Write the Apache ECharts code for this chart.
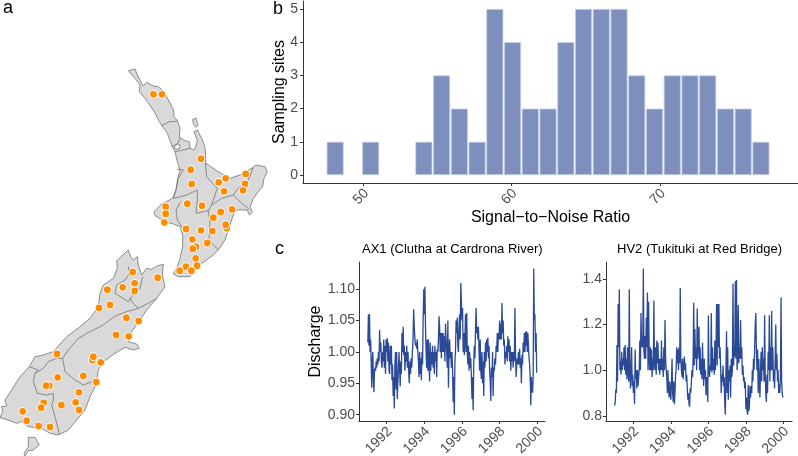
<!DOCTYPE html>
<html><head><meta charset="utf-8">
<style>html,body{margin:0;padding:0;background:#fff}#c{width:798px;height:456px}</style>
<script src="https://cdn.jsdelivr.net/npm/echarts@6/dist/echarts.min.js"></script>
</head><body><div id="c"></div>
<script>
// ---- histogram
const binStart = 47.5, binWidth = 1.196;
const binCounts = [1,0,1,0,0,1,3,2,1,5,4,2,2,4,5,5,5,3,2,3,3,3,2,2,1];
const histXTicks = [50,60,70];
const histYTicks = [0,1,2,3,4,5];
// ---- discharge, half-year blocks from 1991.0 to 2000.0
const ax1HalfYears = [
[1.015,1.06,1.01,1.06,1.0,1.02,.985,.943,.985,1.0,.955,.936,.97,.975,.97,.985,.975],
[.99,.98,1.0,.985,1.035,1.0,1.015,.985,.975,1.0,.985,1.02,.975,1.01,.965,1.02],
[1.0,1.022,.985,1.015,.97,.965,1.01,.98,1.01,.955,.98,.93,.96,.91,.98,1.0],
[.94,1.0,.925,.95,.975,1.0,.97,.945,.985,.965,1.03,1.0,1.04,.995,1.01,.97],
[1.0,.985,1.01,.975,1.0,.97,.95,.985,.965,.99,.975,1.0,1.02,1.068,1.04],
[1.02,1.01,1.015,1.005,1.02,1.0,.985,.96,1.0,.965,.99,.955,1.0,.98,1.05,1.1],
[1.06,1.104,1.04,1.0,.975,1.02,.97,1.02,.98,.953,1.015,.97,1.0,.98,1.01,.975],
[1.0,.965,1.01,.985,1.0,.96,1.005,1.0,1.02,1.057,1.04,1.0,1.03,.99,1.03,1.0],
[1.03,1.0,1.025,.985,1.045,1.02,1.0,.975,1.05,.943,1.0,1.02,.99,1.0,.975,1.0],
[.97,.92,.96,.90,.985,1.0,1.05,1.03,1.055,1.01,1.0,1.04,1.06,1.02,1.11,1.08],
[1.05,1.07,1.0,1.03,.995,1.02,1.06,1.0,1.062,1.0,.98,1.01,.97,1.0,.975,.99],
[.96,.925,.96,.907,.98,1.01,.99,1.035,1.07,1.03,1.04,1.02,1.04,1.0,.97,1.02],
[.97,.957,1.0,.95,.985,.93,1.0,.975,1.015,.985,1.02,1.0,1.023,.99,1.01,.97],
[.955,.922,.975,.96,1.0,.93,.975,.97,.99,.98,1.01,1.0,1.03,1.0,1.03,1.02],
[1.05,1.02,1.045,1.02,1.078,1.03,1.05,1.01,1.02,.98,1.0,.99,1.01,.985,1.025,1.0],
[1.02,.985,1.01,.97,1.0,.985,1.0,.975,1.0,.985,1.07,1.0,.96,.98,.99,.98],
[1.0,.98,1.005,.975,.99,.95,.995,.98,1.015,1.0,1.03,1.0,1.032,1.01,1.033,1.0],
[1.03,1.01,.99,.98,.96,.915,.96,.94,.935,.96,1.133,1.05,1.06,1.0,1.03,.967]];
const hv2HalfYears = [
[.844,.86,.915,.9,1.11,.95,1.29,1.1,1.355,1.0,1.04,.98,1.08,1.0,1.05,1.02],
[1.1,1.0,1.11,.98,1.05,.96,1.1,1.0,.95,1.355,1.0,.92,1.0,1.1,.93,.98],
[.9,.95,.85,1.09,.96,1.0,.92,1.0,.93,.97,1.0,1.13,1.0,1.25,1.1,1.15],
[1.1,1.445,1.08,1.05,1.15,1.05,1.23,1.1,1.34,1.0,1.3,1.05,1.0,1.1,1.0,1.09],
[.97,1.05,1.0,1.305,1.03,1.0,1.1,.98,1.13,1.03,1.12,1.0,1.05,.98,1.05,1.0],
[1.13,1.0,1.05,.97,1.1,1.0,1.22,1.05,1.0,.97,.9,1.0,.92,.88,.95,.9],
[.87,.95,1.05,.9,.86,.95,.85,.9,.98,1.0,1.1,1.03,1.09,1.0,1.1,1.03],
[1.36,1.05,1.0,.97,1.05,.96,1.02,1.06,1.0,1.03,.95,.98,.92,.87,.9,.85],
[.84,.92,.9,.95,1.0,.97,1.05,1.295,1.02,1.18,1.05,1.1,1.0,1.27,1.05,1.15],
[1.19,1.0,1.1,.98,1.05,.96,1.12,1.0,.93,1.05,.96,1.0,.89,.97,.93,.86],
[1.24,1.0,.97,1.02,1.0,1.25,.99,1.1,1.0,1.05,.98,1.13,1.0,1.08,1.29,1.02],
[1.29,1.1,1.29,1.05,1.1,1.0,.9,.98,.95,1.02,.93,.97,.85,.805,1.0,1.17],
[.9,1.1,.87,1.0,.95,1.02,.88,1.05,.97,1.0,1.38,1.02,1.1,1.06,1.39,1.05],
[1.395,1.0,1.06,1.285,1.03,1.1,1.05,1.22,1.05,1.1,.98,1.02,.95,.97,.92,.95],
[.83,.88,.82,.805,.935,.82,.84,.93,.88,.93,.9,1.0,.95,1.05,1.0,1.1],
[1.2,1.25,1.08,1.0,1.09,.9,1.05,.95,.88,1.0,1.08,.95,1.1,1.0,1.05,.95],
[1.24,.98,.9,.86,.98,.9,1.08,1.0,1.24,.95,1.1,1.0,1.26,1.0,1.1,.95],
[1.0,.92,1.05,1.2,1.0,1.07,.95,1.0,.9,.94,.9,.97,1.32,.95,.9,.88]];
const yearTicks = [1992,1994,1996,1998,2000];
const ax1Ticks = [0.90,0.95,1.00,1.05,1.10];
const hv2Ticks = [0.8,1.0,1.2,1.4];
// ---- map (map units)
const northOutline = [[115,62],[135,57],[142,75],[155,100],[160,108],[170,97],[190,108],[205,110],[222,125],[235,150],[250,178],[252,200],[262,212],[270,235],[268,262],[285,272],[298,275],[300,295],[312,300],[318,288],[322,272],[312,245],[322,240],[335,265],[345,290],[348,340],[380,362],[420,385],[450,375],[490,352],[497,345],[525,350],[532,365],[522,385],[518,410],[505,425],[490,445],[480,470],[487,487],[478,495],[472,480],[440,480],[432,490],[425,510],[415,540],[405,570],[385,600],[370,615],[335,640],[310,665],[300,680],[265,680],[250,672],[262,650],[270,625],[278,590],[278,555],[270,530],[250,522],[225,515],[195,497],[192,485],[215,462],[248,445],[258,420],[262,390],[270,360],[262,335],[255,305],[245,285],[232,250],[215,225],[205,210],[190,180],[165,145],[148,125],[150,105],[135,85],[115,62]];
const northIslets = [[[308,208],[318,204],[324,225],[318,232],[310,222]]];
const northHoles = [[[252,290],[262,282],[270,285],[268,295],[258,298]]];
const northBorders = [
[[213,228],[238,215],[262,214]],
[[245,290],[262,282],[270,265]],
[[255,305],[280,300],[300,295]],
[[262,358],[280,360],[265,385],[258,420],[250,445],[290,435],[322,420],[322,450],[318,490],[355,482]],
[[346,340],[350,380],[382,415],[365,465],[355,482],[360,520],[357,570],[385,600]],
[[365,465],[395,445],[430,435],[450,455],[478,478]],
[[490,352],[475,390],[440,420],[430,435]],
[[272,455],[258,480],[262,510],[275,530]]];
const northSites = [[410,535],[318,590],[190,133],[216,133],[333,326],[302,359],[305,402],[407,385],[386,397],[467,372],[465,402],[459,421],[402,424],[227,470],[227,491],[223,517],[292,461],[336,467],[392,486],[426,478],[370,503],[407,524],[288,537],[333,541],[367,543],[307,568],[308,596],[352,579],[317,625],[321,647],[288,650],[304,662],[269,662]];
const southOutline = [[350,92],[385,60],[392,80],[400,90],[412,80],[415,105],[425,135],[440,115],[455,118],[470,108],[490,103],[487,135],[495,170],[470,205],[440,240],[420,270],[395,305],[385,335],[410,342],[418,355],[400,360],[375,352],[345,370],[310,395],[295,420],[288,465],[270,500],[255,540],[230,570],[205,600],[175,615],[150,610],[125,595],[85,590],[65,575],[50,580],[30,572],[0,563],[8,545],[5,530],[20,528],[15,510],[35,480],[60,440],[88,410],[105,380],[130,375],[160,365],[200,320],[240,290],[270,265],[295,230],[300,190],[310,165],[340,145],[352,115],[350,92]];
const southIslets = [[[85,622],[105,622],[118,645],[100,660],[85,662],[75,678],[72,670],[85,650]]];
const southBorders = [
[[385,110],[388,130],[375,150],[350,165],[345,190],[385,215],[395,200],[420,175],[428,140]],
[[390,205],[395,215],[415,235],[435,225],[470,205]],
[[415,235],[380,245],[345,258],[310,285],[270,305],[235,325],[205,360],[188,385],[195,425],[225,450],[250,465],[290,450]],
[[188,385],[170,385],[145,395],[130,415],[105,430],[100,455],[112,490],[140,495],[160,490],[160,510],[155,525],[165,560],[178,612]],
[[88,410],[115,420],[105,430]]];
const southSites = [[277,390],[148,467],[398,126],[404,160],[368,172],[404,183],[473,143],[322,179],[330,225],[297,234],[379,263],[416,273],[348,315],[386,319],[171,372],[280,380],[302,397],[250,438],[173,442],[289,456],[138,467],[237,487],[131,518],[123,533],[227,517],[184,525],[237,540],[68,544],[80,572],[116,588],[150,591]];

const FONT = '"Liberation Sans", Arial, sans-serif';
const fromNorth = p => [90 + p[0]/3, 50 + p[1]/3];
const fromSouth = p => [p[0]/3, 230 + p[1]/3];
const fills = [northOutline.map(fromNorth), ...northIslets.map(s=>s.map(fromNorth)), southOutline.map(fromSouth), ...southIslets.map(s=>s.map(fromSouth))];
const holes = northHoles.map(s=>s.map(fromNorth));
const borders = [...northBorders.map(s=>s.map(fromNorth)), ...southBorders.map(s=>s.map(fromSouth))];
const sites = [...northSites.map(fromNorth), ...southSites.map(fromSouth)];

const hist = binCounts.map((c,i)=>[binStart+binWidth*(i+.5),c]).filter(d=>d[1]>0);
const toLine = blocks => blocks.flatMap((b,k)=>b.map((v,i)=>[1991+(k+i/b.length)*0.5,v]));
const fmt2 = v => v.toFixed(2), fmt1 = v => v.toFixed(1);

function axis(type,min,max,ticks,rot,fmt,margin,extra){
  const a={type,min,max,nameLocation:'middle',nameMoveOverlap:false,
    nameTextStyle:{color:'#000',fontFamily:FONT,fontSize:16},
    axisLine:{onZero:false,lineStyle:{color:'#333',width:1}},
    axisTick:{length:3,customValues:ticks,lineStyle:{color:'#333',width:1}},
    splitLine:{show:false},
    axisLabel:{customValues:ticks,color:'#4d4d4d',fontFamily:FONT,fontSize:14,margin,rotate:rot}};
  if(rot){a.axisLabel.verticalAlign='top';a.axisLabel.lineHeight=9;}
  if(fmt) a.axisLabel.formatter=fmt;
  return Object.assign(a,extra||{});
}
const txt=(left,top,text,size)=>({left,top,text,padding:0,textStyle:{fontFamily:FONT,fontSize:size,fontWeight:'normal',color:'#000'}});

function drawMap(params,api){
  const ch=[];
  fills.forEach(s=>ch.push({type:'polygon',shape:{points:s.map(p=>api.coord(p))},style:{fill:'#d9d9d9',stroke:'#737373',lineWidth:.8}}));
  holes.forEach(s=>ch.push({type:'polygon',shape:{points:s.map(p=>api.coord(p))},style:{fill:'#fff',stroke:'#737373',lineWidth:.8}}));
  borders.forEach(s=>ch.push({type:'polyline',shape:{points:s.map(p=>api.coord(p))},style:{fill:null,stroke:'#737373',lineWidth:.8}}));
  return {type:'group',children:ch};
}

const chart=echarts.init(document.getElementById('c'),null,{renderer:'canvas'});
chart.setOption({
  animation:false,backgroundColor:'#fff',
  title:[
    txt(3,-1,'a',18),txt(273,0,'b',18),txt(275,240,'c',18),
    txt(362,243,'AX1 (Clutha at Cardrona River)',13),
    txt(617,243,'HV2 (Tukituki at Red Bridge)',13)
  ],
  grid:[
    {left:0,top:0,width:270,height:456,outerBoundsMode:'none'},
    {left:303,top:1,width:495,height:182,outerBoundsMode:'none'},
    {left:359,top:262,width:186,height:159,outerBoundsMode:'none'},
    {left:606,top:262,width:186,height:159,outerBoundsMode:'none'}
  ],
  xAxis:[
    {gridIndex:0,type:'value',min:0,max:270,show:false},
    axis('value',45.93,79.3,histXTicks,45,null,5,{gridIndex:1,name:'Signal\u2212to\u2212Noise Ratio',nameGap:27}),
    axis('value',1990.53,2000.41,yearTicks,45,v=>String(v),5,{gridIndex:2}),
    axis('value',1990.54,2000.46,yearTicks,45,v=>String(v),5,{gridIndex:3})
  ],
  yAxis:[
    {gridIndex:0,type:'value',min:0,max:456,inverse:true,show:false},
    axis('value',-0.24,5.24,histYTicks,0,null,5,{gridIndex:1,name:'Sampling sites',nameGap:15}),
    axis('value',0.89,1.1433,ax1Ticks,0,fmt2,4,{gridIndex:2,name:'Discharge',nameGap:35}),
    axis('value',0.777,1.474,hv2Ticks,0,fmt1,4,{gridIndex:3})
  ],
  series:[
    {type:'custom',xAxisIndex:0,yAxisIndex:0,renderItem:drawMap,data:[[0,0]],silent:true,clip:false,z:1},
    {type:'scatter',xAxisIndex:0,yAxisIndex:0,data:sites,symbolSize:7.8,z:2,silent:true,
     itemStyle:{color:'#ff8c00',borderColor:'#fff',borderWidth:1,opacity:1}},
    {type:'bar',xAxisIndex:1,yAxisIndex:1,data:hist,barWidth:17,
     itemStyle:{color:'#7e8fbd',borderColor:'#c6cee3',borderWidth:.8}},
    {type:'line',xAxisIndex:2,yAxisIndex:2,data:toLine(ax1HalfYears),showSymbol:false,lineStyle:{color:'#2a4a98',width:1.3}},
    {type:'line',xAxisIndex:3,yAxisIndex:3,data:toLine(hv2HalfYears),showSymbol:false,lineStyle:{color:'#2a4a98',width:1.3}}
  ]
});
</script></body></html>
